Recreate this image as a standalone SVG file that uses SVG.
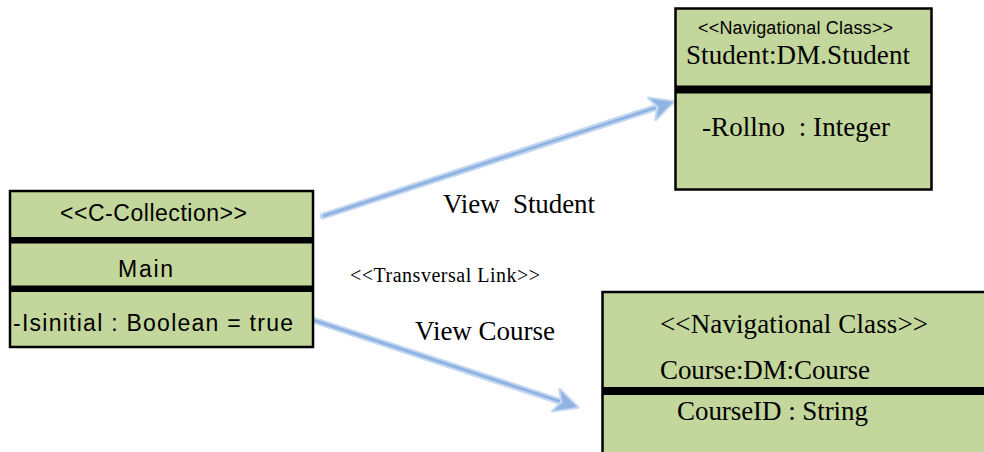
<svg xmlns="http://www.w3.org/2000/svg" width="984" height="452" viewBox="0 0 984 452">
  <style>
    .box { fill: #c3d69b; stroke: #000; stroke-width: 2.5; }
    .sep { fill: #000; }
    text { white-space: pre; }
    .sans { font-family: "Liberation Sans", Arial, sans-serif; fill: #000; }
    .serif { font-family: "Liberation Serif", "Times New Roman", serif; fill: #000; }
    .halo { stroke: #c6d8f0; stroke-width: 7; fill: none; stroke-linecap: round; }
    .core { stroke: #8fb4e3; stroke-width: 3; fill: none; }
  </style>
  <defs>
    <!-- arrowhead tip sits 10px beyond the line end -->
    <marker id="head" markerUnits="userSpaceOnUse" markerWidth="40" markerHeight="34" viewBox="-30 -17 40 34" refX="-10" refY="0" orient="auto">
      <path d="M1,0 L-22,-11.5 L-16,0 L-22,11.5 Z" fill="#c6d8f0" stroke="#c6d8f0" stroke-width="3" stroke-linejoin="round"/>
      <path d="M0,0 L-21,-10.5 L-15,0 L-21,10.5 Z" fill="#8fb4e3"/>
    </marker>
  </defs>

  <!-- transversal links -->
  <g id="connectors">
    <line class="halo" x1="323" y1="216" x2="662" y2="105.5"/>
    <line class="core" x1="323" y1="216" x2="663.5" y2="105.1" marker-end="url(#head)"/>
    <line class="halo" x1="313" y1="320" x2="566" y2="403.5"/>
    <line class="core" x1="313" y1="320" x2="567.5" y2="403.9" marker-end="url(#head)"/>
    <text class="serif" x="443" y="213" font-size="27" textLength="152">View  Student</text>
    <text class="serif" x="350" y="282" font-size="20" textLength="190">&lt;&lt;Transversal Link&gt;&gt;</text>
    <text class="serif" x="415" y="340" font-size="27" textLength="140">View Course</text>
  </g>

  <!-- C-Collection: Main -->
  <g id="main">
    <rect class="box" x="10" y="191" width="303" height="156"/>
    <rect class="sep" x="10" y="237" width="303" height="6.5"/>
    <rect class="sep" x="10" y="285.5" width="303" height="6.5"/>
    <text class="sans" x="60" y="221" font-size="23" textLength="187">&lt;&lt;C-Collection&gt;&gt;</text>
    <text class="sans" x="118" y="277" font-size="23" textLength="55">Main</text>
    <text class="sans" x="13" y="331" font-size="23" textLength="280">-Isinitial : Boolean = true</text>
  </g>

  <!-- Navigational class: Student -->
  <g id="student">
    <rect class="box" x="675.5" y="8.5" width="256" height="181"/>
    <rect class="sep" x="675.5" y="85.5" width="256" height="8"/>
    <text class="sans" x="698" y="34" font-size="18" textLength="195">&lt;&lt;Navigational Class&gt;&gt;</text>
    <text class="serif" x="686" y="64" font-size="27" textLength="224">Student:DM.Student</text>
    <text class="serif" x="702" y="136" font-size="27" textLength="188">-Rollno  : Integer</text>
  </g>

  <!-- Navigational class: Course -->
  <g id="course">
    <rect class="box" x="602.5" y="292" width="400" height="180"/>
    <rect class="sep" x="602.5" y="387" width="400" height="8"/>
    <text class="serif" x="660" y="333" font-size="27" textLength="268">&lt;&lt;Navigational Class&gt;&gt;</text>
    <text class="serif" x="660" y="379" font-size="27" textLength="210">Course:DM:Course</text>
    <text class="serif" x="677" y="420" font-size="27" textLength="191">CourseID : String</text>
  </g>
</svg>
